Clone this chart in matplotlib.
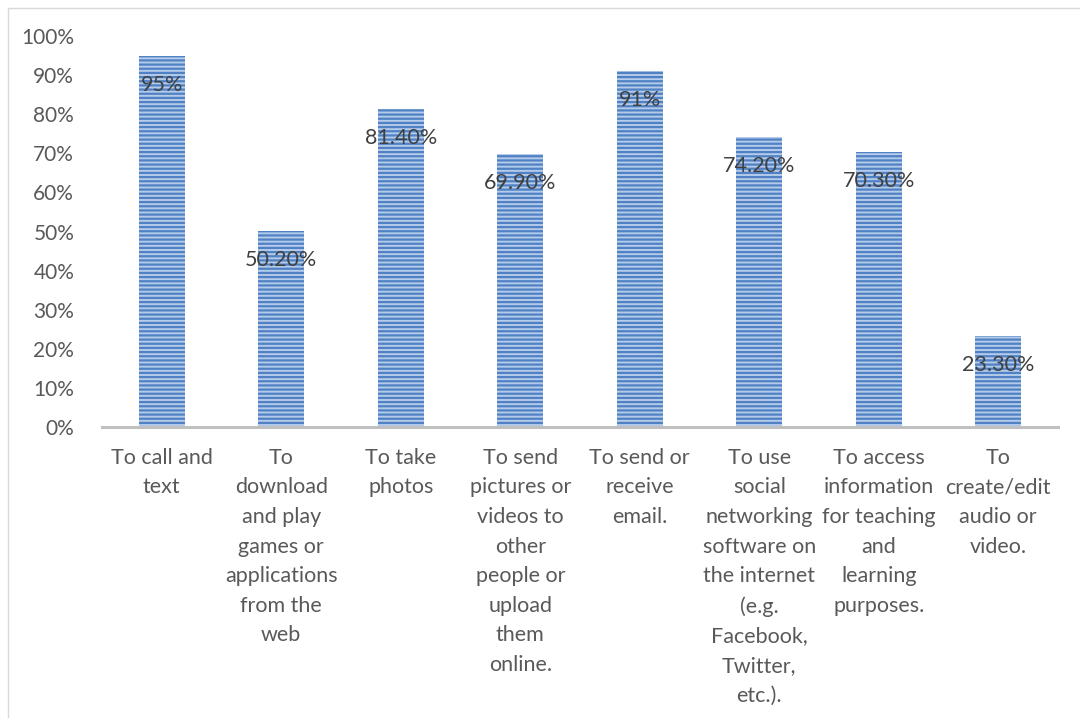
import matplotlib.pyplot as plt
from matplotlib.patches import Rectangle

# survey results: what students use their phones for
categories = [
    "To call and\ntext",
    "To\ndownload\nand play\ngames or\napplications\nfrom the\nweb",
    "To take\nphotos",
    "To send\npictures or\nvideos to\nother\npeople or\nupload\nthem\nonline.",
    "To send or\nreceive\nemail.",
    "To use\nsocial\nnetworking\nsoftware on\nthe internet\n(e.g.\nFacebook,\nTwitter,\netc.).",
    "To access\ninformation\nfor teaching\nand\nlearning\npurposes.",
    "To\ncreate/edit\naudio or\nvideo.",
]
values = [95, 50.2, 81.4, 69.9, 91, 74.2, 70.3, 23.3]
value_labels = ["95%", "50.20%", "81.40%", "69.90%", "91%", "74.20%", "70.30%", "23.30%"]
y_ticks = list(range(0, 101, 10))

plt.rcParams['font.family'] = ['Lato', 'DejaVu Sans']
plt.rcParams['hatch.linewidth'] = 1.6

fig = plt.figure(figsize=(10.8, 7.18), dpi=100)
ax = fig.add_axes([102 / 1080, 1 - 427 / 718, 956 / 1080, 391 / 718])

x = list(range(len(values)))
ax.bar(x, values, width=0.385, color='#b4cbea', edgecolor='#4f81c4',
       hatch='----', linewidth=0)

for xi, v, lab in zip(x, values, value_labels):
    ax.annotate(lab, (xi, v), xytext=(0, -29), textcoords='offset pixels',
                ha='center', va='center', fontsize=15.5, color='#404040')

ax.set_xlim(-0.5, len(values) - 0.5)
ax.set_ylim(0, 100)
ax.set_yticks(y_ticks)
ax.set_yticklabels([f"{t}%" for t in y_ticks])
ax.set_xticks(x)
ax.set_xticklabels(categories, linespacing=1.6, fontsize=15.5)

for s in ['top', 'right', 'left']:
    ax.spines[s].set_visible(False)
ax.spines['bottom'].set_color('#c0c0c0')
ax.spines['bottom'].set_linewidth(2.2)
ax.tick_params(axis='both', length=0, colors='#595959')
ax.tick_params(axis='y', pad=20, labelsize=15)
ax.tick_params(axis='x', pad=15)
for t in ax.get_xticklabels():
    t.set_va('top')

# light frame around the chart area
fig.patches.append(Rectangle((8 / 1080, -0.01), 1.02, 1 - 8 / 718 + 0.01,
                             transform=fig.transFigure, fill=False,
                             edgecolor='#d9d9d9', linewidth=1))

fig.savefig("out.png", dpi=100)
